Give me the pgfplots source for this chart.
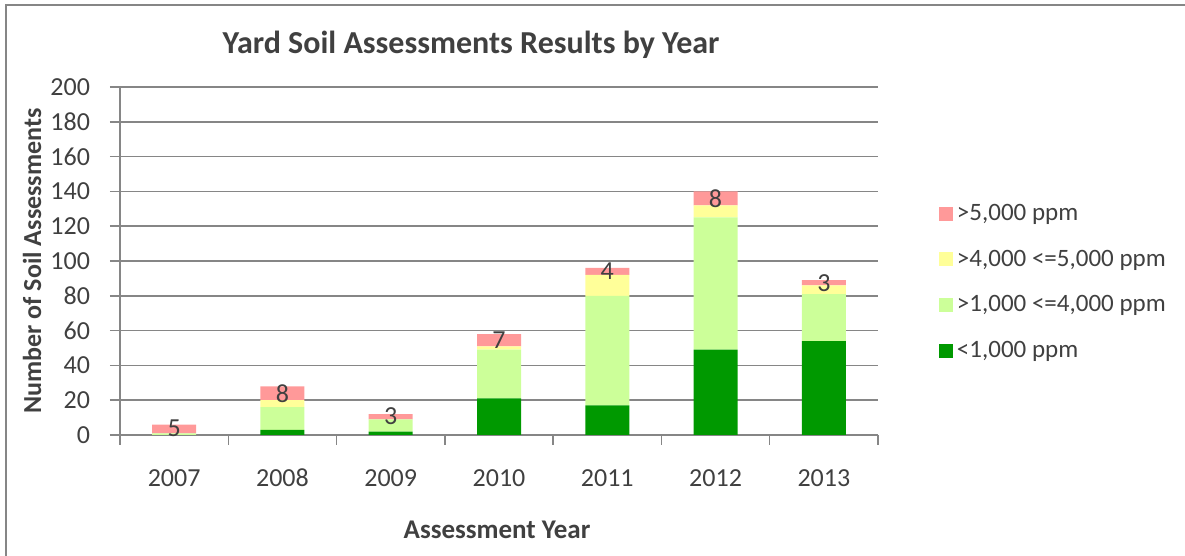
\documentclass[border=0pt]{standalone}
\usepackage{pgfplots}
\pgfplotsset{compat=1.18}
\usepackage{pgfplotstable}
\usepackage{fontspec}
\setmainfont{Carlito}
\definecolor{cpink}{HTML}{FF9999}
\definecolor{cyellow}{HTML}{FFFF99}
\definecolor{clgreen}{HTML}{CCFF99}
\definecolor{cgreen}{HTML}{009900}
\definecolor{gridc}{HTML}{868686}
\definecolor{txt}{HTML}{404040}
\pgfplotstableread{
x g lg y p
0 0 1 0 5
1 3 13 4 8
2 2 7 0 3
3 21 28 2 7
4 17 63 12 4
5 49 76 7 8
6 54 27 5 3
}\datatable
\begin{document}
\begin{tikzpicture}
\useasboundingbox (0pt,0pt) rectangle (592.5pt,278pt);
\draw[gridc, line width=1pt] (3pt,-2pt) -- (3pt,275.5pt) -- (600pt,275.5pt);
\node[font=\fontsize{16}{19}\selectfont\bfseries, text=txt] at (235.5pt,255.5pt) {Yard Soil Assessments Results by Year};
\node[font=\fontsize{13}{15}\selectfont\bfseries, text=txt, rotate=90] at (16pt,147.5pt) {Number of Soil Assessments};
\node[font=\fontsize{13.5}{16}\selectfont\bfseries, text=txt] at (248.5pt,13pt) {Assessment Year};
\begin{axis}[
  at={(60pt,60.5pt)}, anchor=south west,
  scale only axis, width=379pt, height=174pt,
  ybar stacked, bar width=22pt,
  xmin=-0.5, xmax=6.5, ymin=0, ymax=200,
  enlarge x limits=false,
  xtick={-0.5,0.5,...,6.5},
  x tick label as interval,
  xticklabels={2007,2008,2009,2010,2011,2012,2013},
  ytick={0,20,...,200},
  ymajorgrids,
  grid style={gridc, line width=0.75pt},
  axis x line*=bottom, axis y line*=left,
  axis line style={gridc, line width=0.75pt, -},
  tick style={gridc, line width=0.75pt},
  tick align=outside,
  major tick length=5pt,
  ticklabel style={font=\fontsize{13}{15}\selectfont, text=txt},
  xticklabel style={yshift=-8pt, text height=9pt, text depth=0pt},
  yticklabel style={xshift=-6.5pt},
  /pgf/number format/assume math mode=true,
  legend style={draw=none, fill=none, at={(1.072,0.688)}, anchor=north west,
    font=\fontsize{12.5}{15}\selectfont, text=txt, row sep=9.3pt},
  legend cell align=left,
  reverse legend,
  legend image code/.code={\fill[#1] (0pt,-3.5pt) rectangle (7pt,3.5pt);},
]
\addplot[fill=cgreen, draw=none] table[x=x, y=g] {\datatable};
\addplot[fill=clgreen, draw=none] table[x=x, y=lg] {\datatable};
\addplot[fill=cyellow, draw=none] table[x=x, y=y] {\datatable};
\addplot[fill=cpink, draw=none, point meta=rawy, nodes near coords,
  every node near coord/.style={anchor=north, inner sep=0pt, yshift=4.5pt,
    font=\fontsize{13}{15}\selectfont, text=txt}] table[x=x, y=p] {\datatable};
\legend{{<1,000 ppm},{>1,000 <=4,000 ppm},{>4,000 <=5,000 ppm},{>5,000 ppm}}
\end{axis}
\end{tikzpicture}
\end{document}
